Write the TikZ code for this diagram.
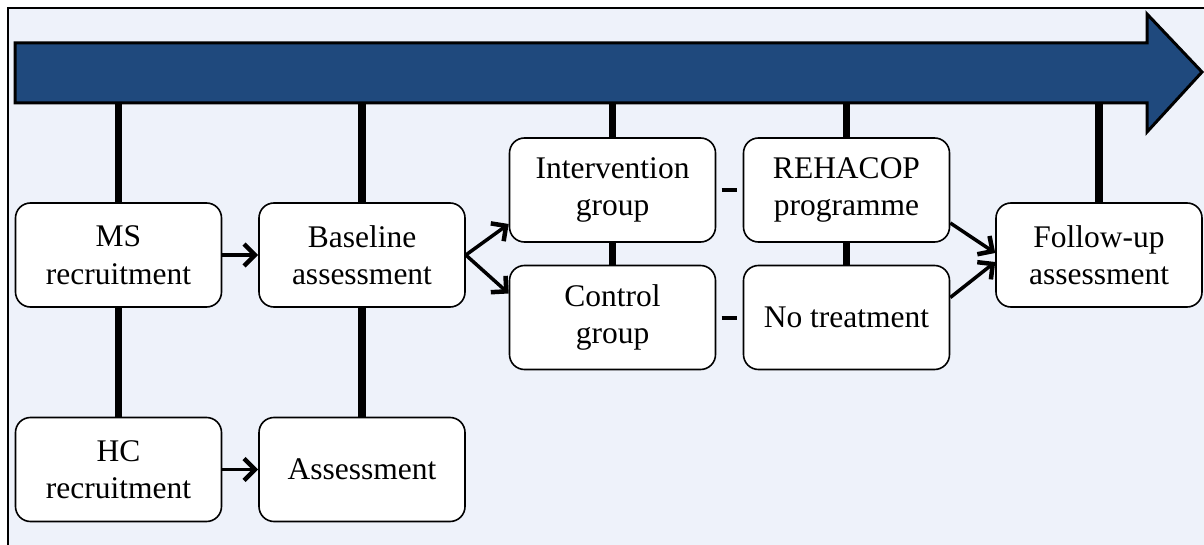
\documentclass[tikz,border=0pt]{standalone}
\usepackage{fontspec}
\setmainfont{Liberation Serif}
\usetikzlibrary{arrows.meta,backgrounds,calc}
\definecolor{timeblue}{HTML}{1F497D}
\definecolor{panel}{HTML}{EEF2FA}

\begin{document}
\begin{tikzpicture}[x=1pt,y=-1pt,
  box/.style={draw,fill=white,line width=1.6pt,rounded corners=15pt,
    minimum width=206pt,minimum height=104pt,align=center,
    font=\fontsize{31.5}{37.5}\selectfont},
  stem/.style={line width=7.5pt},
  go/.style={line width=3.5pt,-{Straight Barb[length=11pt,width=22pt,line width=4.5pt]}},
  tick/.style={line width=4pt}]
\useasboundingbox (0,0) rectangle (1204,545);
% time line
\draw[line width=3pt,fill=timeblue] (15,43) -- (1147,43) -- (1147,14) -- (1202,72)
  -- (1147,132) -- (1147,103) -- (15,103) -- cycle;
\coordinate (axis) at (0,103);
% stages
\node[box] (ms) at (118.5,255) {MS\\recruitment};
\node[box] (base) at (362,255) {Baseline\\assessment};
\node[box] (int) at (612.5,190) {Intervention\\group};
\node[box] (ctrl) at (612.5,317.5) {Control\\group};
\node[box] (reh) at (846.5,190) {REHACOP\\programme};
\node[box] (notr) at (846.5,317.5) {No treatment};
\node[box] (fu) at (1099,255) {Follow-up\\assessment};
\node[box] (hc) at (118.5,469.5) {HC\\recruitment};
\node[box] (asmt) at (362,469.5) {Assessment};
\begin{pgfonlayer}{background}
\draw[line width=2pt,fill=panel] (8,8) rectangle (1215,560);
\draw[stem] (ms |- axis) -- (hc.center);
\draw[stem] (base |- axis) -- (asmt.center);
\draw[stem] (int |- axis) -- (ctrl.center);
\draw[stem] (reh |- axis) -- (notr.center);
\draw[stem] (fu |- axis) -- (fu.center);
\end{pgfonlayer}
% flow
\draw[go] (ms) -- (base);
\draw[go] (hc) -- (asmt);
\draw[go] (base.east) -- ([yshift=-34pt]int.west);
\draw[go] (base.east) -- ([yshift=24pt]ctrl.west);
\draw[go] ([yshift=-33pt]reh.east) -- ([yshift=2pt]fu.west);
\draw[go] ([yshift=20pt]notr.east) -- ([yshift=-7pt]fu.west);
\draw[tick] ($(int.east)!.2!(reh.west)$) -- ($(int.east)!.8!(reh.west)$);
\draw[tick] ($(ctrl.east)!.2!(notr.west)$) -- ($(ctrl.east)!.8!(notr.west)$);
\end{tikzpicture}
\end{document}
